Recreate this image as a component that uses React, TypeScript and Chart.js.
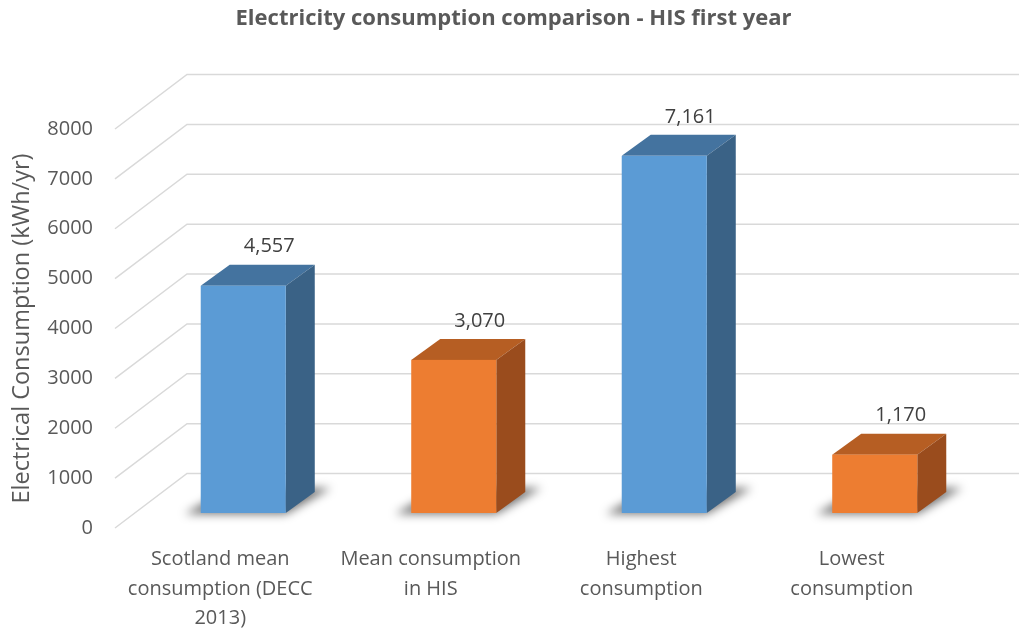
import React, { useEffect, useRef } from "react";
import { Chart, registerables } from "chart.js";

Chart.register(...registerables);

// ---- data ----
const categories: string[][] = [
  ["Scotland mean", "consumption (DECC", "2013)"],
  ["Mean consumption", "in HIS"],
  ["Highest", "consumption"],
  ["Lowest", "consumption"],
];
const consumption = [4557, 3070, 7161, 1170];
const faceColors = ["#5B9BD5", "#ED7D31", "#5B9BD5", "#ED7D31"];
const topColors = ["#44739F", "#B65E23", "#44739F", "#B65E23"];
const sideColors = ["#3A6286", "#9A4C1D", "#3A6286", "#9A4C1D"];
const yMin = 0;
const yMax = 8000;
const yStep = 1000;

const titleText = "Electricity consumption comparison - HIS first year";
const yTitleText = "Electrical Consumption (kWh/yr)";

// ---- oblique projection used for the pseudo-3D look ----
const FLOOR_DX = 72; // front edge of the floor -> back wall
const FLOOR_DY = -54.5;
const BAR_DX = 23; // front face of a box relative to the floor's front edge
const BAR_DY = -15;
const DEPTH_DX = 29; // depth of each box
const DEPTH_DY = -21;

const FONT = "'Open Sans', 'DejaVu Sans', sans-serif";

const fmt = (v: number) => v.toLocaleString("en-US");

const box3d = {
  id: "box3d",
  beforeDatasetsDraw(chart: any) {
    const { ctx, chartArea, scales } = chart;
    const y = scales.y;
    ctx.save();
    // side wall and back wall gridlines
    ctx.strokeStyle = "#D9D9D9";
    ctx.lineWidth = 1.5;
    y.ticks.forEach((t: any) => {
      const py = y.getPixelForValue(t.value);
      ctx.beginPath();
      ctx.moveTo(chartArea.left, py);
      ctx.lineTo(chartArea.left + FLOOR_DX, py + FLOOR_DY);
      ctx.lineTo(chart.width, py + FLOOR_DY);
      ctx.stroke();
    });
    // soft floor shadows cast by each box
    const meta = chart.getDatasetMeta(0);
    ctx.filter = "blur(5px)";
    ctx.fillStyle = "rgba(0,0,0,0.55)";
    meta.data.forEach((el: any) => {
      const w = el.width;
      const fl = el.x + BAR_DX - w / 2;
      const fr = fl + w;
      const b = el.base + BAR_DY;
      ctx.beginPath();
      ctx.moveTo(fl - 16, b + 1);
      ctx.lineTo(fr, b + 1);
      ctx.lineTo(fr + DEPTH_DX + 16, b + DEPTH_DY - 4);
      ctx.lineTo(fl + DEPTH_DX, b + DEPTH_DY - 4);
      ctx.closePath();
      ctx.fill();
    });
    ctx.filter = "none";
    ctx.restore();
  },
  afterDatasetsDraw(chart: any) {
    const { ctx } = chart;
    const meta = chart.getDatasetMeta(0);
    const values = chart.data.datasets[0].data as number[];
    ctx.save();
    meta.data.forEach((el: any, i: number) => {
      const w = el.width;
      const fl = el.x + BAR_DX - w / 2;
      const fr = fl + w;
      const top = el.y + BAR_DY;
      const b = el.base + BAR_DY;
      // top face
      ctx.fillStyle = topColors[i];
      ctx.beginPath();
      ctx.moveTo(fl, top);
      ctx.lineTo(fl + DEPTH_DX, top + DEPTH_DY);
      ctx.lineTo(fr + DEPTH_DX, top + DEPTH_DY);
      ctx.lineTo(fr, top);
      ctx.closePath();
      ctx.fill();
      // side face
      ctx.fillStyle = sideColors[i];
      ctx.beginPath();
      ctx.moveTo(fr, top);
      ctx.lineTo(fr + DEPTH_DX, top + DEPTH_DY);
      ctx.lineTo(fr + DEPTH_DX, b + DEPTH_DY);
      ctx.lineTo(fr, b);
      ctx.closePath();
      ctx.fill();
      // front face
      ctx.fillStyle = faceColors[i];
      ctx.fillRect(fl, top, w, b - top);
      // value label
      ctx.fillStyle = "#404040";
      ctx.font = `20px ${FONT}`;
      ctx.textAlign = "center";
      ctx.textBaseline = "middle";
      ctx.fillText(fmt(values[i]), el.x + BAR_DX + 26, top + DEPTH_DY - 18);
    });
    ctx.restore();
  },
};

export default function App() {
  const ref = useRef<HTMLCanvasElement>(null);

  useEffect(() => {
    if (!ref.current) return;
    const chart = new Chart(ref.current, {
      type: "bar",
      data: {
        labels: categories,
        datasets: [
          {
            data: consumption,
            backgroundColor: "rgba(0,0,0,0)",
            borderWidth: 0,
            barPercentage: 0.404,
            categoryPercentage: 1,
          },
        ],
      },
      options: {
        responsive: false,
        animation: false,
        layout: { padding: { left: 8, right: 0, top: 0, bottom: 0 } },
        plugins: {
          legend: { display: false },
          tooltip: { enabled: false },
          title: {
            display: true,
            text: titleText,
            color: "#595959",
            font: { family: FONT, size: 22, weight: "bold" },
            padding: { top: 6, bottom: 96.6 },
          },
        },
        scales: {
          x: {
            offset: true,
            grid: { display: false, drawTicks: false },
            border: { display: false },
            ticks: {
              color: "#595959",
              font: { family: FONT, size: 20, lineHeight: 1.47 },
              padding: 17,
              maxRotation: 0,
              autoSkip: false,
            },
            afterFit: (s: any) => {
              s.height = 633 - 528;
            },
          },
          y: {
            min: yMin,
            max: yMax,
            grid: { display: false, drawTicks: false },
            border: { display: false },
            ticks: {
              stepSize: yStep,
              color: "#595959",
              font: { family: FONT, size: 20 },
              padding: 22,
              callback: (v: any) => String(v),
            },
            title: {
              display: true,
              text: yTitleText,
              color: "#595959",
              font: { family: FONT, size: 23.5 },
              padding: { top: 0, bottom: 0 },
            },
            afterFit: (s: any) => {
              s.width = 115 - 8;
            },
          },
          yRight: {
            display: true,
            position: "right",
            grid: { display: false, drawTicks: false },
            border: { display: false },
            ticks: { display: false },
            afterFit: (s: any) => {
              s.width = 1019 - 957;
            },
          },
        },
      } as any,
      plugins: [box3d],
    });
    return () => chart.destroy();
  }, []);

  return (
    <div
      style={{
        position: "fixed",
        left: 0,
        top: 0,
        width: 1019,
        height: 633,
        background: "#ffffff",
      }}
    >
      <canvas ref={ref} width={1019} height={633} style={{ display: "block" }} />
    </div>
  );
}
